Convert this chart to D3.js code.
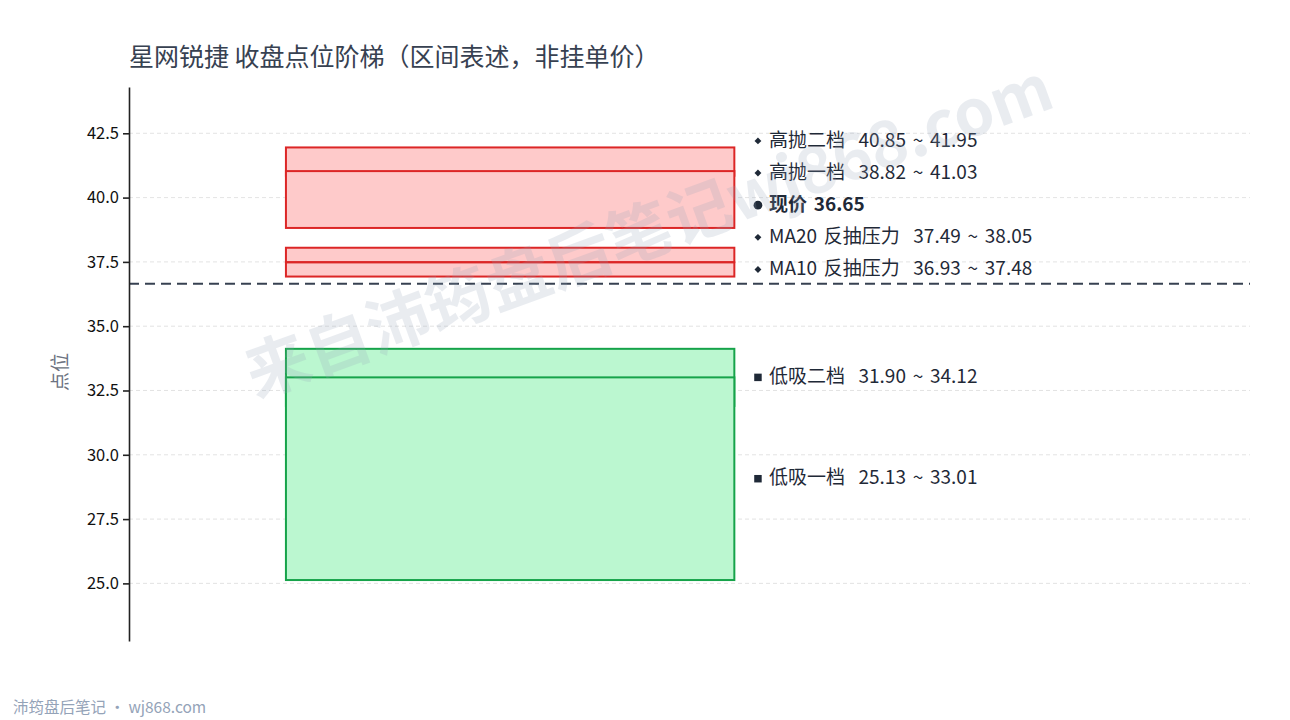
<!DOCTYPE html>
<html>
<head>
<meta charset="utf-8">
<script src="https://cdn.jsdelivr.net/npm/d3@7"></script>
<style>
  body { margin: 0; background: #fff; }
  text { font-family: "Noto Sans CJK SC", "Noto Sans", sans-serif; }
</style>
</head>
<body>
<svg id="chart" width="1290" height="720"></svg>
<script>
// zones (draw order)
const zoneNames = ["高抛二档", "高抛一档", "MA20 反抽压力", "MA10 反抽压力", "低吸二档", "低吸一档"];
const zoneLow  = [40.85, 38.82, 37.49, 36.93, 31.90, 25.13];
const zoneHigh = [41.95, 41.03, 38.05, 37.48, 34.12, 33.01];
const zoneSide = ["sell", "sell", "sell", "sell", "buy", "buy"];
const currentPrice = 36.65;
const yTicks = [25.0, 27.5, 30.0, 32.5, 35.0, 37.5, 40.0, 42.5];
// label order, top to bottom
const labelOrder = ["高抛二档", "高抛一档", "现价", "MA20 反抽压力", "MA10 反抽压力", "低吸二档", "低吸一档"];

const svg = d3.select("#chart");
const plotLeft = 129, plotRight = 1250, plotTop = 87, plotBottom = 641;

const y = d3.scaleLinear().domain([22.76, 44.30]).range([plotBottom, plotTop]);
const x = d3.scaleLinear().domain([0, 1]).range([plotLeft, plotRight]);

const colors = {
    sell: { fill: "#fecaca", stroke: "#dc2626" },
    buy: { fill: "#bbf7d0", stroke: "#16a34a" }
};

// grid
svg.append("g").selectAll("line")
    .data(yTicks)
    .enter()
    .append("line")
    .attr("x1", plotLeft)
    .attr("x2", plotRight)
    .attr("y1", d => y(d))
    .attr("y2", d => y(d))
    .attr("stroke", "#dcdcdc")
    .attr("stroke-width", 0.8)
    .attr("stroke-dasharray", "4,3");

// zone boxes
const zones = zoneNames.map((n, i) => ({ name: n, lo: zoneLow[i], hi: zoneHigh[i], side: zoneSide[i] }));
svg.append("g").selectAll("rect")
    .data(zones)
    .enter()
    .append("rect")
    .attr("x", x(0.14))
    .attr("width", x(0.54) - x(0.14))
    .attr("y", d => y(d.hi))
    .attr("height", d => y(d.lo) - y(d.hi))
    .attr("fill", d => colors[d.side].fill)
    .attr("stroke", d => colors[d.side].stroke)
    .attr("stroke-width", 2);

// current price line
svg.append("line")
    .attr("x1", plotLeft)
    .attr("x2", plotRight)
    .attr("y1", y(currentPrice))
    .attr("y2", y(currentPrice))
    .attr("stroke", "#374151")
    .attr("stroke-width", 2)
    .attr("stroke-dasharray", "10,6");

// y axis
const yAxis = d3.axisLeft(y).tickValues(yTicks).tickFormat(d3.format(".1f")).tickSize(6).tickSizeOuter(0);
const gy = svg.append("g").attr("transform", `translate(${plotLeft},0)`).call(yAxis);
gy.select(".domain").attr("stroke", "#222").attr("stroke-width", 1.6);
gy.selectAll(".tick line").attr("stroke", "#222").attr("stroke-width", 1.6);
gy.selectAll(".tick text")
    .attr("font-size", 16.5)
    .attr("fill", "#111")
    .attr("x", -10)
    .style("font-family", "\"Noto Sans CJK SC\", \"Noto Sans\", sans-serif");

svg.append("text")
    .attr("transform", `translate(67,${(plotTop + plotBottom) / 2 + 8}) rotate(-90)`)
    .attr("text-anchor", "middle")
    .attr("font-size", 19)
    .attr("fill", "#6b7280")
    .text("点位");

// labels: ideal position at zone middle, pushed up to keep a minimum gap
const labels = labelOrder.map(name => {
    if (name === "现价") {
        return { text: "现价 " + currentPrice.toFixed(2), value: currentPrice, marker: "circle", bold: true };
    }
    const z = zones.find(d => d.name === name);
    return {
        text: `${name}\u00a0\u00a0${z.lo.toFixed(2)} ~ ${z.hi.toFixed(2)}`,
        value: (z.lo + z.hi) / 2,
        marker: z.side === "buy" ? "square" : "diamond",
        bold: false
    };
});
const gap = 1.25;
for (let i = labels.length - 1; i >= 0; i--) {
    labels[i].pos = labels[i].value;
    if (i < labels.length - 1) {
        labels[i].pos = Math.max(labels[i].value, labels[i + 1].pos + gap);
    }
}

const symbolTypes = { diamond: d3.symbolDiamond2, circle: d3.symbolCircle, square: d3.symbolSquare };
const symbolSizes = { diamond: 30, circle: 60, square: 56 };
const markX = x(0.5575) + 4;
const lg = svg.append("g");
lg.selectAll("path")
    .data(labels)
    .enter()
    .append("path")
    .attr("transform", d => `translate(${markX},${y(d.pos)})`)
    .attr("d", d => d3.symbol().type(symbolTypes[d.marker]).size(symbolSizes[d.marker])())
    .attr("fill", "#1f2937");

lg.selectAll("text")
    .data(labels)
    .enter()
    .append("text")
    .attr("x", markX + 11)
    .attr("y", d => y(d.pos) - 1)
    .attr("dy", "0.35em")
    .attr("font-size", 19)
    .attr("font-weight", d => d.bold ? "bold" : "normal")
    .attr("word-spacing", 2.5)
    .attr("fill", "#1f2937")
    .text(d => d.text);

// title
svg.append("text")
    .attr("x", plotLeft)
    .attr("y", 66)
    .attr("font-size", 25)
    .attr("fill", "#374151")
    .text("星网锐捷 收盘点位阶梯（区间表述，非挂单价）");

// footer
svg.append("text")
    .attr("x", 13)
    .attr("y", 713)
    .attr("font-size", 15.5)
    .attr("fill", "#94a3b8")
    .text("沛筠盘后笔记 · wj868.com");

// watermark on top
svg.append("text")
    .attr("transform", "translate(647,226) rotate(-20)")
    .attr("text-anchor", "middle")
    .attr("dominant-baseline", "central")
    .attr("font-size", 64)
    .attr("font-weight", "bold")
    .attr("fill", "#94a3b8")
    .attr("opacity", 0.2)
    .text("来自沛筠盘后笔记wj868.com");
</script>
</body>
</html>
